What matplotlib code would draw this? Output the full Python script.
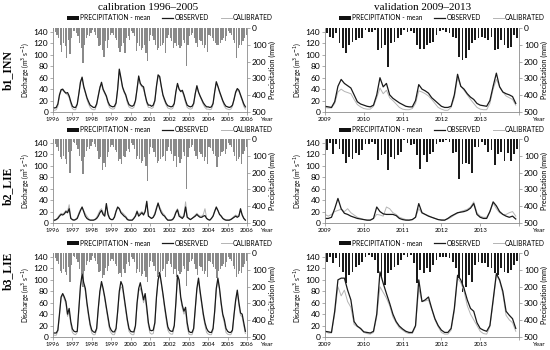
import matplotlib
matplotlib.use('Agg')
import matplotlib.pyplot as plt
from matplotlib.lines import Line2D
from matplotlib.patches import Patch
import numpy as np

# ---------------- data ----------------
CAL_YEARS = [str(y) for y in range(1996, 2007)]
VAL_YEARS = [str(y) for y in range(2009, 2014)]
ROW_NAMES = ["b1_INN", "b2_LIE", "b3_LIE"]
COL_TITLES = ["calibration 1996\u20132005", "validation 2009\u20132013"]
LEGEND_LABELS = ["PRECIPITATION - mean", "OBSERVED", "CALIBRATED"]

# calibration precipitation (mm, monthly 1996-2005)
P_CAL_B1 = [20,25,40,60,100,140,90,110,180,70,157,60,
            15,20,30,50,90,120,206,100,60,40,50,30,
            10,25,40,60,110,100,131,171,80,120,70,40,
            30,40,60,70,120,141,110,90,151,60,50,70,
            20,30,50,137,90,110,130,120,100,150,196,80,
            40,50,70,100,131,120,110,100,90,151,60,40,
            60,80,121,90,110,100,120,110,70,90,224,100,
            50,40,30,60,90,111,70,80,100,120,100,141,
            40,50,60,80,90,101,100,90,70,60,80,50,
            20,30,40,70,90,180,120,100,101,80,60,40]
P_CAL_B2 = [25,30,45,70,110,120,100,120,150,80,202,70,
            20,25,35,60,100,130,206,110,70,50,60,40,
            15,30,45,70,120,110,187,140,167,110,80,50,
            35,45,65,80,130,120,151,100,110,70,60,80,
            25,35,60,120,100,120,140,130,110,160,252,90,
            45,55,80,110,140,130,120,110,100,130,70,50,
            70,90,130,100,167,110,140,120,80,100,296,110,
            55,45,35,70,100,120,80,90,110,130,110,150,
            45,55,70,90,100,167,110,100,80,70,90,60,
            25,35,45,80,100,130,120,110,151,90,70,50]
P_CAL_B3 = [25,30,45,65,105,120,95,115,130,85,170,70,
            20,25,35,55,95,125,200,105,70,50,55,40,
            15,30,45,65,115,105,151,130,90,110,75,45,
            35,45,65,75,125,120,141,95,120,65,55,75,
            25,35,55,120,95,115,135,125,105,140,171,85,
            45,55,75,105,141,125,115,105,95,141,65,45,
            65,85,125,95,141,105,125,115,75,95,196,105,
            55,45,35,65,95,131,75,85,105,125,105,141,
            45,55,65,85,95,151,105,95,75,65,85,55,
            25,35,45,75,95,141,125,105,121,85,65,45]

# calibration discharge (m3/s)
Q_OBS_CAL_B1 = [8,7,8,14,30,39,40,36,33,34,28,18,
                10,8,8,14,32,52,61,45,35,25,18,12,
                10,8,8,14,28,42,52,40,34,28,18,12,
                10,9,10,16,40,75,60,44,36,30,20,13,
                11,10,12,20,40,63,50,46,44,30,18,12,
                12,10,12,20,45,65,62,45,30,22,15,11,
                10,9,10,15,35,50,40,36,38,30,20,12,
                10,9,10,15,32,46,35,28,22,16,12,9,
                9,8,9,15,35,53,45,36,28,20,14,10,
                9,8,9,12,22,35,41,38,30,22,14,9]
Q_SIM_CAL_B1 = [4,3,4,10,28,37,38,35,32,30,25,14,
                6,4,4,12,34,55,58,42,33,22,14,8,
                5,4,4,12,30,45,48,38,32,26,15,8,
                6,5,6,14,42,72,58,42,34,28,16,9,
                7,6,8,18,42,60,48,44,40,28,15,8,
                8,6,8,18,46,62,60,43,28,19,12,7,
                6,5,6,13,36,48,40,35,36,27,16,8,
                6,5,6,13,33,44,34,27,20,13,8,5,
                5,4,5,13,36,50,44,34,26,18,10,6,
                5,4,5,10,24,33,38,36,28,20,10,5]
Q_OBS_CAL_B2 = [5,5,6,8,12,15,14,16,20,18,25,8,
                6,5,6,8,15,22,28,20,12,8,6,5,
                5,5,6,8,12,18,22,15,12,34,15,8,
                6,6,10,20,28,25,18,15,12,10,6,5,
                5,5,8,12,20,12,15,18,14,20,38,12,
                10,8,10,15,25,35,25,18,14,12,8,5,
                5,5,6,10,18,23,12,10,8,12,28,10,
                8,6,8,10,12,15,12,10,10,12,13,8,
                6,5,8,12,20,28,22,15,12,8,6,5,
                5,5,6,8,10,12,10,12,25,14,8,5]
Q_SIM_CAL_B2 = [4,4,6,10,14,17,16,18,22,20,32,10,
                5,5,7,10,18,24,27,22,16,12,8,5,
                5,5,7,10,16,22,25,18,15,30,18,9,
                6,6,12,22,27,26,20,18,15,12,8,5,
                5,5,9,14,22,15,18,20,16,22,35,14,
                9,8,11,18,28,33,28,22,17,14,9,5,
                5,5,7,12,20,25,15,12,10,14,37,12,
                7,6,8,11,14,17,14,12,12,15,25,9,
                6,5,8,13,22,26,22,16,13,9,7,5,
                5,5,7,9,12,14,12,14,22,15,9,5]
Q_OBS_CAL_B3 = [7,7,7,12,40,70,76,70,62,40,50,27,
                14,10,9,10,50,90,110,95,85,60,40,22,
                12,9,8,15,50,80,97,85,70,52,35,18,
                12,9,9,15,45,80,97,90,70,50,30,15,
                10,9,9,20,60,85,95,80,65,76,52,25,
                12,11,12,25,70,100,113,95,76,55,36,18,
                12,10,10,20,60,108,100,70,55,45,52,25,
                10,8,8,15,50,85,103,80,60,40,25,15,
                10,8,8,15,45,85,103,85,60,40,30,15,
                10,8,8,12,40,65,82,60,42,40,25,10]
Q_SIM_CAL_B3 = [4,3,3,10,38,68,74,66,58,36,45,22,
                8,5,4,8,48,88,105,92,80,55,35,18,
                7,4,4,12,48,78,92,82,66,48,30,12,
                7,4,4,12,42,76,88,85,65,45,26,10,
                6,4,4,18,56,80,85,76,60,70,45,20,
                7,5,6,22,68,98,110,92,72,50,30,12,
                7,5,5,18,58,105,98,66,50,40,46,18,
                5,4,4,12,48,82,100,76,55,35,20,8,
                5,4,4,12,42,82,100,82,56,36,24,8,
                5,4,4,10,38,62,78,55,38,35,20,6]

# validation precipitation (mm, monthly 2009-2013)
P_VAL_B1 = [32,52,62,32,91,117,150,101,81,71,62,62,
            12,22,22,12,131,117,101,230,91,81,62,42,
            12,22,18,32,101,125,125,101,91,81,42,20,
            12,22,32,52,62,171,190,181,131,91,71,62,
            52,62,71,52,131,125,71,101,121,111,42,60]
P_VAL_B2 = [68,24,87,28,58,87,143,107,117,83,97,68,
            28,32,18,28,123,97,87,187,107,117,97,77,
            8,24,38,28,97,177,97,137,87,77,28,20,
            18,8,18,83,77,236,147,143,147,202,48,48,
            18,38,77,68,155,87,77,131,83,131,87,60]
P_VAL_B3 = [52,22,62,32,81,111,180,131,111,81,71,52,
            22,12,22,42,121,151,190,121,101,81,71,42,
            12,22,12,62,180,101,121,91,111,71,42,22,
            22,22,32,52,91,151,230,200,131,171,71,52,
            62,62,81,91,121,131,91,111,121,101,71,50]

Q_OBS_VAL_B1 = [10,9,8,18,45,57,50,46,42,30,18,14,
                12,10,9,12,30,60,44,50,30,24,20,16,
                13,10,9,9,20,48,40,37,33,25,20,15,
                10,8,8,10,30,66,45,40,32,26,22,15,
                12,11,10,20,45,68,44,35,32,30,27,15]
Q_SIM_VAL_B1 = [8,7,7,15,35,40,36,34,32,22,13,9,
                6,5,5,10,25,42,32,38,25,20,14,8,
                5,4,4,6,15,37,35,32,28,22,15,8,
                5,3,3,8,25,60,45,38,30,22,15,8,
                5,4,4,15,40,57,45,35,28,25,22,12]
Q_OBS_VAL_B2 = [8,8,10,25,43,25,17,15,12,10,8,7,
                6,5,5,8,28,20,16,15,15,15,13,8,
                6,5,5,6,10,34,18,15,12,10,8,6,
                5,5,8,12,15,18,19,20,22,26,34,15,
                10,8,8,20,37,30,20,15,12,10,12,7]
Q_SIM_VAL_B2 = [15,12,15,20,22,24,20,25,18,14,10,8,
                6,5,5,8,15,14,12,28,25,18,15,10,
                8,6,5,6,10,25,17,15,13,10,8,6,
                6,5,7,10,14,17,20,22,24,28,37,18,
                12,10,10,20,35,25,18,15,15,18,20,12]
Q_OBS_VAL_B3 = [10,9,8,45,100,103,103,82,65,27,19,15,
                9,8,7,10,40,114,94,76,59,40,27,19,
                14,10,8,8,20,100,62,65,70,50,32,20,
                12,8,8,15,50,108,100,85,65,50,45,25,
                15,12,10,20,65,111,100,80,45,38,32,15]
Q_SIM_VAL_B3 = [10,7,7,40,88,72,82,62,52,22,18,14,
                8,6,5,8,35,88,78,68,55,35,25,16,
                12,8,6,6,18,85,62,63,65,48,30,18,
                8,5,5,12,45,103,95,80,55,40,30,20,
                10,6,5,18,60,108,98,75,38,30,25,10]

# ---------------- figure ----------------
W, H = 550, 350
fig = plt.figure(figsize=(W / 100, H / 100), dpi=100)
fig.patch.set_facecolor('white')

SANS = ['Lato', 'DejaVu Sans']
SERIF = ['Liberation Serif', 'DejaVu Serif']
GRAY = '#8c8c8c'


def px_axes(x0, y0, x1, y1):
    return fig.add_axes([x0 / W, 1 - y1 / H, (x1 - x0) / W, (y1 - y0) / H])


def panel(ax, precip, obs, sim, years, bar_color, bar_width, legend_cx, legend_cy):
    n = len(obs)
    x = np.arange(n)
    ax2 = ax.twinx()
    ax2.bar(x + 0.5, precip, width=bar_width, color=bar_color, linewidth=0)
    ax2.set_ylim(500, 0)
    ax2.set_yticks(range(0, 501, 100))
    ax.plot(x, sim, color='#b4b4b4', lw=0.7)
    ax.plot(x, obs, color='#1a1a1a', lw=0.9)
    ax.set_zorder(ax2.get_zorder() + 1)
    ax.patch.set_visible(False)
    ax.set_xlim(0, n)
    ax.set_ylim(0, 147)
    ax.set_yticks(range(0, 141, 20))
    ticks = list(range(0, n + 1, 12))
    labels = list(years) + [''] * (len(ticks) - len(years))
    ax.set_xticks(ticks)
    ax.set_xticklabels(labels, fontsize=4.3, family=SANS)
    for a in (ax, ax2):
        for s in a.spines.values():
            s.set_color(GRAY)
            s.set_linewidth(0.6)
        a.spines['top'].set_visible(False)
    ax.spines['right'].set_visible(False)
    ax2.spines['left'].set_visible(False)
    ax2.spines['bottom'].set_visible(False)
    ax.tick_params(axis='y', length=2, width=0.5, color=GRAY, labelsize=6, pad=1.5)
    ax.tick_params(axis='x', length=2, width=0.5, color=GRAY, pad=1.5)
    ax2.tick_params(axis='y', length=2, width=0.5, color=GRAY, labelsize=6, pad=1.5)
    for lab in ax.get_yticklabels() + ax2.get_yticklabels():
        lab.set_family(SANS)
    ax.set_ylabel('Discharge (m$^3$ s$^{-1}$)', fontsize=4.8, family=SANS, labelpad=2)
    ax2.set_ylabel('Precipitation (mm)', fontsize=5.2, family=SANS, labelpad=2)
    ax.text(1.1, -0.06, 'Year', transform=ax.transAxes, fontsize=4.5,
            family=SANS, ha='center', va='top')
    handles = [Patch(facecolor='#111111', edgecolor='none'),
               Line2D([], [], color='#1a1a1a', lw=0.9),
               Line2D([], [], color='#b4b4b4', lw=0.7)]
    ax.legend(handles, LEGEND_LABELS, loc='center',
              bbox_to_anchor=(legend_cx / W, 1 - legend_cy / H),
              bbox_transform=fig.transFigure, ncol=3, frameon=False,
              prop={'family': SANS, 'size': 4.8}, handlelength=1.7,
              handleheight=0.6, handletextpad=0.15, columnspacing=1.8,
              borderpad=0)


rows_y = [(28, 112), (139, 223), (253, 337)]
legend_y = [18, 130, 243]
cols_x = [(53, 247), (325, 519)]
legend_x = [170, 442]
label_y = [70, 186, 271]

cal = [(P_CAL_B1, Q_OBS_CAL_B1, Q_SIM_CAL_B1),
       (P_CAL_B2, Q_OBS_CAL_B2, Q_SIM_CAL_B2),
       (P_CAL_B3, Q_OBS_CAL_B3, Q_SIM_CAL_B3)]
val = [(P_VAL_B1, Q_OBS_VAL_B1, Q_SIM_VAL_B1),
       (P_VAL_B2, Q_OBS_VAL_B2, Q_SIM_VAL_B2),
       (P_VAL_B3, Q_OBS_VAL_B3, Q_SIM_VAL_B3)]

for r in range(3):
    y0, y1 = rows_y[r]
    axl = px_axes(cols_x[0][0], y0, cols_x[0][1], y1)
    panel(axl, *cal[r], CAL_YEARS, '#8a8a8a', 0.75, legend_x[0], legend_y[r])
    axr = px_axes(cols_x[1][0], y0, cols_x[1][1], y1)
    panel(axr, *val[r], VAL_YEARS, '#1a1a1a', 0.55, legend_x[1], legend_y[r])
    fig.text(8 / W, 1 - label_y[r] / H, ROW_NAMES[r], rotation=90, fontsize=8.5,
             fontweight='bold', family=SERIF, ha='center', va='center')

fig.text(148 / W, 1 - 7 / H, COL_TITLES[0], fontsize=8, family=SERIF,
         ha='center', va='center')
fig.text(423 / W, 1 - 7 / H, COL_TITLES[1], fontsize=8, family=SERIF,
         ha='center', va='center')

fig.savefig('out.png', dpi=100)
